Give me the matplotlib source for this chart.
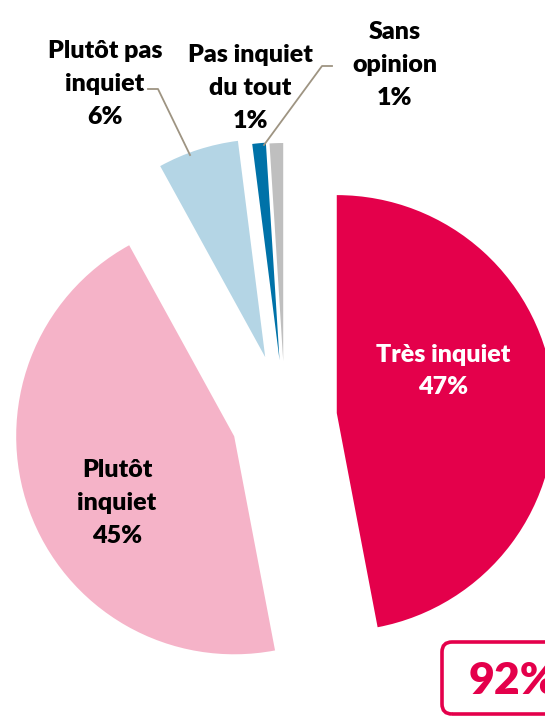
import matplotlib.pyplot as plt
from matplotlib.patches import FancyBboxPatch

# Données
categories = ['Très inquiet', 'Plutôt inquiet', 'Plutôt pas inquiet', 'Pas inquiet du tout', 'Sans opinion']
valeurs = [47, 45, 6, 1, 1]
couleurs = ['#E4004B', '#F5B3C8', '#B4D5E5', '#0072A8', '#BFBFBF']
ecarts = [52, 54, 64, 58, 57]
total_inquiet = valeurs[0] + valeurs[1]

plt.rcParams['font.family'] = ['Lato', 'DejaVu Sans']

fig = plt.figure(figsize=(5.45, 7.18), dpi=100)
ax = fig.add_axes([0, 0, 1, 1])

# Camembert (coordonnées en pixels, y vers le haut)
ax.pie(valeurs, colors=couleurs, explode=ecarts, radius=218, center=(285, 300),
       startangle=90, counterclock=False, wedgeprops={'linewidth': 0}, frame=True)
ax.set_xlim(0, 545)
ax.set_ylim(0, 718)
ax.set_aspect('equal')
ax.axis('off')

style = dict(fontsize=18, fontweight='heavy', ha='center', va='center', linespacing=1.6)

# Etiquettes
ax.text(443, 347, 'Très inquiet\n47%', color='white', **style)
ax.text(117, 215, 'Plutôt\ninquiet\n45%', color='black', **style)
ax.text(105, 634, 'Plutôt pas\ninquiet\n6%', color='black', **style)
ax.text(250, 630, 'Pas inquiet\ndu tout\n1%', color='black', **style)
ax.text(395, 653, 'Sans\nopinion\n1%', color='black', **style)

# Lignes de rappel
ax.plot([148, 158, 190], [629, 629, 563], color='#9E9482', lw=1.3)
ax.plot([332, 322, 264], [652, 652, 573], color='#9E9482', lw=1.3)

# Encadré du total
boite = FancyBboxPatch((442, 4), 130, 72, boxstyle='round,pad=0,rounding_size=10',
                       fill=False, edgecolor='#E4004B', linewidth=2.6)
ax.add_patch(boite)
ax.text(469, 37, f'{total_inquiet}%', color='#E4004B', fontsize=32, fontweight='heavy',
        ha='left', va='center')

plt.savefig('out.png', dpi=100)
